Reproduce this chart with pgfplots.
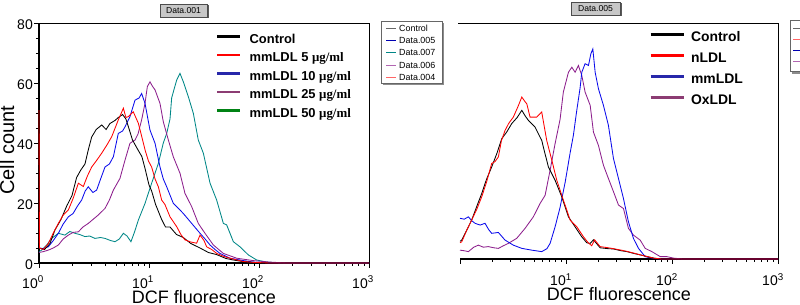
\documentclass[border=0pt]{standalone}
\usepackage{fontspec}
\setmainfont{Liberation Sans}
\newfontfamily\tnr{Liberation Serif}
\usepackage{pgfplots}
\usepackage{pgfplotstable}
\pgfplotsset{compat=1.18}

\definecolor{cRed}{RGB}{255,0,0}
\definecolor{cBlue}{RGB}{10,10,235}
\definecolor{cPurple}{RGB}{140,30,140}
\definecolor{cTeal}{RGB}{0,135,135}
\definecolor{lBlue}{RGB}{40,40,170}
\definecolor{lPurple}{RGB}{140,60,115}
\definecolor{lGreen}{RGB}{0,130,20}

% ---------- left panel ----------
\pgfplotstableread{
L c
0.000 5.0
0.050 4.5
0.100 6.5
0.145 11.0
0.200 14.5
0.252 19.0
0.300 22.5
0.342 28.5
0.380 31.0
0.418 33.0
0.450 38.0
0.479 42.0
0.520 44.5
0.570 46.0
0.610 44.5
0.645 46.5
0.690 47.5
0.721 48.5
0.760 49.5
0.790 48.0
0.812 45.5
0.850 41.0
0.880 39.0
0.903 37.5
0.935 35.5
0.964 31.5
1.000 26.0
1.024 24.0
1.060 19.5
1.115 14.5
1.150 12.0
1.191 12.0
1.250 9.5
1.312 8.5
1.380 6.5
1.464 5.0
1.540 3.5
1.615 2.8
1.700 1.5
1.767 1.0
1.850 0.5
1.950 0.2
2.100 0
3.000 0
}\ctlA

\pgfplotstableread{
L c
0.000 51
0.004 5
0.040 4.5
0.085 6.5
0.130 10
0.176 13.2
0.220 16
0.267 17.7
0.310 21.5
0.358 26.6
0.403 25.5
0.440 29
0.479 32
0.520 34
0.570 36.6
0.620 39.5
0.661 42.1
0.721 47.7
0.767 51.6
0.790 48.5
0.812 48.8
0.857 50.4
0.903 46.6
0.935 42
0.964 37.7
0.995 34
1.024 32
1.055 28
1.085 25.4
1.115 21
1.145 19.5
1.191 15.4
1.252 12.1
1.290 9.5
1.327 7.7
1.380 7.0
1.433 6.6
1.464 9.3
1.500 7.5
1.524 5.4
1.570 4.5
1.615 3.2
1.680 2.2
1.736 1.6
1.800 1.0
1.857 0.5
1.950 0.2
2.100 0
3.000 0
}\fiveA

\pgfplotstableread{
L c
0.000 5.0
0.040 4.8
0.085 5.4
0.130 7.5
0.176 9.9
0.220 13
0.267 15.4
0.310 16.5
0.350 19
0.388 21
0.420 24
0.448 25.4
0.490 23.5
0.524 24.3
0.560 28
0.600 32
0.640 33
0.676 35.4
0.721 43.2
0.760 44
0.782 45.4
0.827 48.8
0.873 54.3
0.910 55
0.933 56.5
0.964 53.2
0.990 48
1.009 44.3
1.055 39.9
1.100 32
1.130 28
1.161 25.4
1.221 19.9
1.260 18.5
1.312 16.5
1.388 13.2
1.464 9.9
1.510 8
1.555 6
1.600 4.5
1.645 3.2
1.736 1.6
1.857 0.8
1.950 0.3
2.100 0
3.000 0
}\tenA

\pgfplotstableread{
L c
0.000 3.5
0.040 3.8
0.085 4.3
0.130 5
0.176 6
0.220 8
0.267 9.3
0.310 10.2
0.358 10.4
0.400 12
0.448 13.2
0.490 14.5
0.539 16
0.600 18.2
0.640 21
0.676 24.3
0.736 28.2
0.782 34.3
0.827 39.9
0.873 41
0.900 43
0.933 47.7
0.964 53.3
0.985 58.8
1.009 60.4
1.030 59
1.055 57.7
1.100 53.2
1.130 47.1
1.176 41
1.221 35.4
1.282 29.9
1.327 23.2
1.388 18.8
1.448 13.2
1.509 9.9
1.585 6
1.676 3.2
1.797 1.6
1.948 0.8
2.100 0.3
2.250 0
3.000 0
}\twentyfiveA

\pgfplotstableread{
L c
0.000 3.8
0.024 4.3
0.070 6
0.115 8.2
0.176 9.9
0.236 9.3
0.280 10.5
0.327 9.9
0.370 9.5
0.418 8.8
0.460 9
0.509 8.2
0.560 8.5
0.600 8.2
0.650 7.5
0.691 7.1
0.730 8
0.767 9.9
0.800 9
0.836 7.1
0.870 10.5
0.903 14.3
0.964 19.9
1.024 26.6
1.085 33.2
1.130 40
1.161 43.2
1.191 48
1.206 55
1.230 58.2
1.252 61
1.282 63.2
1.312 60.4
1.358 55.4
1.403 49.9
1.448 41
1.494 36.6
1.555 26.6
1.615 21
1.676 13.2
1.706 12.7
1.767 7.1
1.827 5.4
1.903 2.7
1.979 1.0
2.070 0.3
2.200 0
3.000 0
}\fiftyA

% ---------- right panel ----------
\pgfplotstableread{
L c
0.000 6
0.016 6.4
0.060 9.5
0.110 13.2
0.160 18
0.205 22.2
0.250 27
0.299 31.2
0.350 36
0.394 40.8
0.440 43
0.488 45.9
0.540 48
0.583 50.4
0.615 48.5
0.645 47
0.708 44.7
0.771 40.2
0.800 36
0.834 31.2
0.897 26.7
0.960 21.1
1.023 14.3
1.086 10.9
1.149 7.5
1.196 5.5
1.228 5.3
1.259 6.5
1.322 3.8
1.400 3.5
1.448 3.4
1.520 2.8
1.574 2.5
1.650 1.8
1.700 1.4
1.780 0.7
1.826 0.3
1.900 0
3.000 0
}\ctlB

\pgfplotstableread{
L c
0.000 5.5
0.016 5.8
0.060 9.5
0.110 13.2
0.160 17
0.205 21.1
0.250 26
0.299 32.4
0.330 33
0.362 34.6
0.390 40
0.425 43.6
0.460 46
0.503 48.1
0.545 51.5
0.583 54.9
0.610 53.5
0.630 52.6
0.661 48.1
0.724 48.1
0.771 49.8
0.818 40.2
0.866 33.5
0.913 26.7
0.976 19.9
1.039 13.2
1.102 10.9
1.165 7.5
1.210 5.5
1.243 4.5
1.270 6.5
1.322 4.2
1.400 3.8
1.448 3.5
1.520 3
1.574 2.6
1.650 1.9
1.700 1.4
1.780 0.7
1.826 0.3
1.900 0
3.000 0
}\nLDL

\pgfplotstableread{
L c
0.000 13.8
0.040 13.5
0.079 14.3
0.110 13
0.142 12.1
0.190 11.5
0.236 12.1
0.270 10
0.299 8.7
0.362 9.0
0.425 6.4
0.503 4.7
0.583 3.6
0.677 3.0
0.771 2.5
0.820 3.5
0.850 5.3
0.897 10.9
0.944 17.5
0.992 26
1.039 36
1.070 42
1.100 50
1.133 58
1.149 63.3
1.180 66.2
1.212 65.6
1.234 69.5
1.253 71.2
1.275 63.3
1.306 57.7
1.353 52.1
1.400 45.3
1.448 34
1.495 27.3
1.542 20.5
1.589 12.6
1.636 7
1.684 3.6
1.747 0.8
1.826 0.2
1.900 0
3.000 0
}\mmLDL

\pgfplotstableread{
L c
0.000 3.0
0.040 2.8
0.079 2.5
0.130 4.0
0.173 4.7
0.220 4.0
0.267 4.2
0.320 3.8
0.362 3.6
0.410 4.5
0.456 5.3
0.535 7
0.614 10.4
0.692 14.3
0.755 18.8
0.803 21.6
0.850 30.1
0.897 39.1
0.944 47.3
0.975 56.6
1.023 63.3
1.055 65
1.086 63.3
1.117 65.6
1.149 62.2
1.180 56.6
1.228 52.1
1.259 43
1.306 38.5
1.353 31.8
1.400 27.3
1.448 22.8
1.495 18.3
1.542 17.1
1.589 10.4
1.636 8.1
1.700 6.4
1.747 3.6
1.810 2.5
1.889 0.8
1.952 0.8
2.014 0.3
2.100 0
3.000 0
}\oxLDL

\pgfplotsset{
  flowaxis/.style={
    scale only axis,
    xmin=0, xmax=3, ymin=0, ymax=80,
    xtick={0,1,2,3},
    minor xtick={0.301,0.477,0.602,0.699,0.778,0.845,0.903,0.954,
                 1.301,1.477,1.602,1.699,1.778,1.845,1.903,1.954,
                 2.301,2.477,2.602,2.699,2.778,2.845,2.903,2.954},
    tick align=outside, tick pos=left,
    major tick length=5pt, minor tick length=3pt,
    tick style={black, line width=0.6pt},
    ticklabel style={font=\fontsize{14}{14}\selectfont},
    xticklabel style={anchor=base, yshift=-20pt, xshift=-6pt},
    xlabel={DCF fluorescence},
    xlabel style={font=\fontsize{18}{18}\selectfont, at={(axis description cs:0.5,0)}, anchor=base, inner sep=0pt},
    every axis plot/.append style={line width=0.85pt},
    legend cell align=left,
    clip=false,
  }
}

\begin{document}
\begin{tikzpicture}
\useasboundingbox (0pt,0pt) rectangle (800pt,305pt);

% ===== Left panel =====
\begin{axis}[flowaxis,
  at={(39pt,42pt)}, anchor=south west,
  width=330pt, height=240pt,
  xticklabels={10\textsuperscript{0},10\textsuperscript{1},10\textsuperscript{2},10\textsuperscript{3}},
  ytick={0,20,40,60,80},
  yticklabels={0,20,40,60,80},
  minor ytick={5,10,15,25,30,35,45,50,55,65,70,75},
  yticklabel style={anchor=east, inner sep=0pt, xshift=-1pt, yshift=-2pt},
  axis line style={line width=0.8pt},
  xlabel style={yshift=-40pt},
  ylabel={Cell count},
  ylabel style={font=\fontsize{20}{20}\selectfont, at={(axis description cs:-0.097,0.469)}, anchor=center, inner sep=0pt},
  legend style={at={(rel axis cs:0.536,0.963)}, anchor=north west, draw=none, fill=none,
    inner sep=0pt, row sep=3.6pt, column sep=7pt,
    font=\fontsize{12.9}{12.9}\bfseries\selectfont,
    nodes={inner sep=1pt, text height=10pt, text depth=3pt}},
  legend image code/.code={\draw[#1, line width=2.6pt] (0pt,0.33em) -- (23pt,0.33em);},
]
\draw[line width=1.8pt] (rel axis cs:0,1) -- (rel axis cs:0,0) -- (rel axis cs:1,0);
\addlegendimage{black}\addlegendentry{Control}
\addlegendimage{cRed}\addlegendentry{mmLDL 5 {\tnr\bfseries μg/ml}}
\addlegendimage{lBlue}\addlegendentry{mmLDL 10 {\tnr\bfseries μg/ml}}
\addlegendimage{lPurple}\addlegendentry{mmLDL 25 {\tnr\bfseries μg/ml}}
\addlegendimage{lGreen}\addlegendentry{mmLDL 50 {\tnr\bfseries μg/ml}}
\addplot[cTeal, forget plot] table[x=L,y=c] {\fiftyA};
\addplot[cPurple, forget plot] table[x=L,y=c] {\twentyfiveA};
\addplot[cBlue, forget plot] table[x=L,y=c] {\tenA};
\addplot[black, forget plot] table[x=L,y=c] {\ctlA};
\addplot[cRed, forget plot] table[x=L,y=c] {\fiveA};
\end{axis}

% ===== Right panel =====
\begin{axis}[flowaxis,
  at={(460pt,46pt)}, anchor=south west,
  width=318pt, height=236pt,
  xticklabels={,10\textsuperscript{1},10\textsuperscript{2},10\textsuperscript{3}},
  xticklabel style={xshift=1pt, yshift=-2pt},
  ytick=\empty,
  axis line style={draw=none},
  xlabel style={yshift=-42pt},
  legend style={at={(rel axis cs:0.594,0.972)}, anchor=north west, draw=none, fill=none,
    inner sep=0pt, row sep=4.5pt, column sep=5pt,
    font=\fontsize{13.9}{13.9}\bfseries\selectfont,
    nodes={inner sep=1pt, text height=11pt, text depth=3.5pt}},
  legend image code/.code={\draw[#1, line width=3pt] (0pt,0.33em) -- (33pt,0.33em);},
]
\draw[line width=0.8pt] (rel axis cs:-0.006,1) -- (rel axis cs:1,1) -- (rel axis cs:1,0);
\draw[line width=2.2pt] (rel axis cs:0,0) -- (rel axis cs:1,0);
\addlegendimage{black}\addlegendentry{Control}
\addlegendimage{cRed}\addlegendentry{nLDL}
\addlegendimage{lBlue}\addlegendentry{mmLDL}
\addlegendimage{lPurple}\addlegendentry{OxLDL}
\addplot[cPurple, forget plot] table[x=L,y=c] {\oxLDL};
\addplot[cBlue, forget plot] table[x=L,y=c] {\mmLDL};
\addplot[black, forget plot] table[x=L,y=c] {\ctlB};
\addplot[cRed, forget plot] table[x=L,y=c] {\nLDL};
\end{axis}

% ===== title boxes =====
\fill[black!65] (161.5pt,286.5pt) rectangle (208.5pt,299.5pt);
\filldraw[fill=black!22, draw=black!70, line width=0.5pt] (160pt,288pt) rectangle (207pt,301pt);
\node[font=\fontsize{8.6}{8.6}\selectfont, inner sep=0pt] at (183.5pt,294.5pt) {Data.001};
\fill[black!65] (572.5pt,288.5pt) rectangle (621.5pt,301.5pt);
\filldraw[fill=black!22, draw=black!70, line width=0.5pt] (571pt,290pt) rectangle (620pt,303pt);
\node[font=\fontsize{8.6}{8.6}\selectfont, inner sep=0pt] at (595.5pt,296.5pt) {Data.005};

% ===== small series box of the left panel =====
\fill[black!45] (383pt,219.5pt) rectangle (444pt,281.5pt);
\filldraw[fill=white, draw=black!60, line width=0.5pt] (381pt,221.5pt) rectangle (442pt,283.5pt);
\begin{scope}[font=\fontsize{8.9}{8.9}\selectfont]
\draw[black!60, line width=0.8pt] (386pt,276.7pt) -- (396pt,276.7pt);
\node[anchor=west, inner sep=0pt] at (399pt,276.7pt) {Control};
\draw[blue!70!black, line width=0.8pt] (386pt,264.3pt) -- (396pt,264.3pt);
\node[anchor=west, inner sep=0pt] at (399pt,264.3pt) {Data.005};
\draw[cTeal, line width=0.8pt] (386pt,252.3pt) -- (396pt,252.3pt);
\node[anchor=west, inner sep=0pt] at (399pt,252.3pt) {Data.007};
\draw[violet!60, line width=0.8pt] (386pt,240pt) -- (396pt,240pt);
\node[anchor=west, inner sep=0pt] at (399pt,240pt) {Data.006};
\draw[red!60, line width=0.8pt] (386pt,227.7pt) -- (396pt,227.7pt);
\node[anchor=west, inner sep=0pt] at (399pt,227.7pt) {Data.004};
\end{scope}

% ===== partial series box of the right panel (cut by the edge) =====
\fill[black!45] (792pt,231.3pt) rectangle (812pt,282.3pt);
\filldraw[fill=white, draw=black!60, line width=0.5pt] (790pt,233.3pt) rectangle (810pt,284.3pt);
\draw[black!60, line width=0.8pt] (793pt,276.7pt) -- (803pt,276.7pt);
\draw[red!60, line width=0.8pt] (793pt,265.7pt) -- (803pt,265.7pt);
\draw[blue!70!black, line width=0.8pt] (793pt,255pt) -- (803pt,255pt);
\draw[violet!60, line width=0.8pt] (793pt,243.3pt) -- (803pt,243.3pt);
\end{tikzpicture}
\end{document}
